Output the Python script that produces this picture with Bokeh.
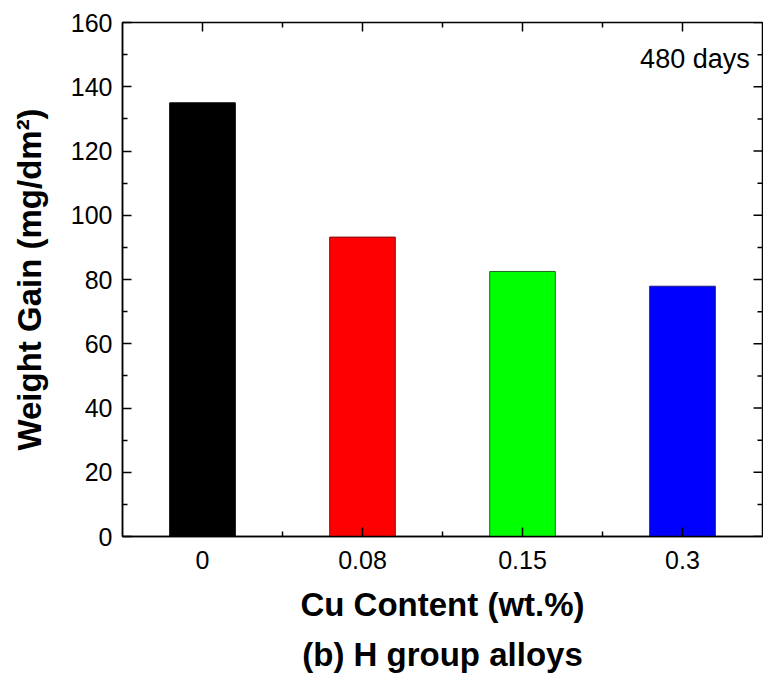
import math
from bokeh.plotting import figure
from bokeh.models import (ColumnDataSource, Range1d, FixedTicker, Label, Title)
from bokeh.embed import file_html
from bokeh.resources import INLINE

categories = ["0", "0.08", "0.15", "0.3"]
weight_gain = [135.0, 93.2, 82.5, 77.9]
fill_colors = ["#000000", "#FF0000", "#00FF00", "#0000FF"]
edge_colors = ["#000000", "#7A1010", "#1E6B1E", "#1A1A80"]
y_ticks = [0, 20, 40, 60, 80, 100, 120, 140, 160]
y_minor = [10, 30, 50, 70, 90, 110, 130, 150]

xs = list(range(len(categories)))
x_minor = [i + 0.5 for i in xs[:-1]]
x_lo, x_hi = -0.5, len(categories) - 0.5
y_lo, y_hi = 0, 160

src = ColumnDataSource(dict(x=xs, top=weight_gain, fill=fill_colors, edge=edge_colors))

FONT = "Liberation Sans"

p = figure(width=763, height=684, output_backend="svg", toolbar_location=None,
           x_range=Range1d(x_lo, x_hi), y_range=Range1d(y_lo, y_hi),
           min_border_left=122, min_border_right=1, min_border_top=22, min_border_bottom=148)
p.xgrid.visible = False
p.ygrid.visible = False
p.outline_line_color = "black"
p.outline_line_width = 1.5
p.background_fill_color = "white"
p.border_fill_color = "white"

p.vbar(x="x", top="top", width=0.41, bottom=0, source=src,
       fill_color="fill", line_color="edge", line_width=1)

x_ticker = FixedTicker(ticks=xs, minor_ticks=x_minor)
y_ticker = FixedTicker(ticks=y_ticks, minor_ticks=y_minor)

def style(ax):
    ax.axis_line_color = "black"
    ax.axis_line_width = 1.5
    ax.major_tick_in = 9
    ax.major_tick_out = 0
    ax.minor_tick_in = 5
    ax.minor_tick_out = 0
    ax.major_tick_line_width = 1.5
    ax.minor_tick_line_width = 1.5
    ax.major_tick_line_color = "black"
    ax.minor_tick_line_color = "black"
    ax.major_label_text_font = FONT
    ax.major_label_text_font_size = "25px"
    ax.major_label_text_color = "black"
    ax.axis_label_text_font = FONT
    ax.axis_label_text_font_size = "33px"
    ax.axis_label_text_font_style = "bold"
    ax.axis_label_text_color = "black"

xa = p.xaxis[0]
xa.ticker = x_ticker
xa.major_label_overrides = {i: c for i, c in zip(xs, categories)}
xa.axis_label = "Cu Content (wt.%)"
style(xa)
xa.major_label_standoff = 14
xa.axis_label_standoff = 14

ya = p.yaxis[0]
ya.ticker = y_ticker
ya.axis_label = "Weight Gain (mg/dm²)"
style(ya)
ya.major_label_standoff = 10
ya.axis_label_standoff = 20

# mirrored inward ticks on the top and right frame edges
p.ray(x=xs, y=[y_hi] * len(xs), length=9, length_units="screen", angle=-math.pi / 2,
      line_color="black", line_width=1.5)
p.ray(x=x_minor, y=[y_hi] * len(x_minor), length=5, length_units="screen", angle=-math.pi / 2,
      line_color="black", line_width=1.5)
p.ray(x=[x_hi] * len(y_ticks), y=y_ticks, length=9, length_units="screen", angle=math.pi,
      line_color="black", line_width=1.5)
p.ray(x=[x_hi] * len(y_minor), y=y_minor, length=5, length_units="screen", angle=math.pi,
      line_color="black", line_width=1.5)

p.add_layout(Label(x=3.42, y=148.5, text="480 days", text_align="right",
                   text_baseline="middle", text_font=FONT, text_font_size="27px",
                   text_color="black"))

t = Title(text="(b) H group alloys", align="center", text_font=FONT,
          text_font_size="33px", text_font_style="bold", text_color="black", standoff=16)
p.add_layout(t, "below")

open("out.html", "w").write(file_html(p, INLINE))
